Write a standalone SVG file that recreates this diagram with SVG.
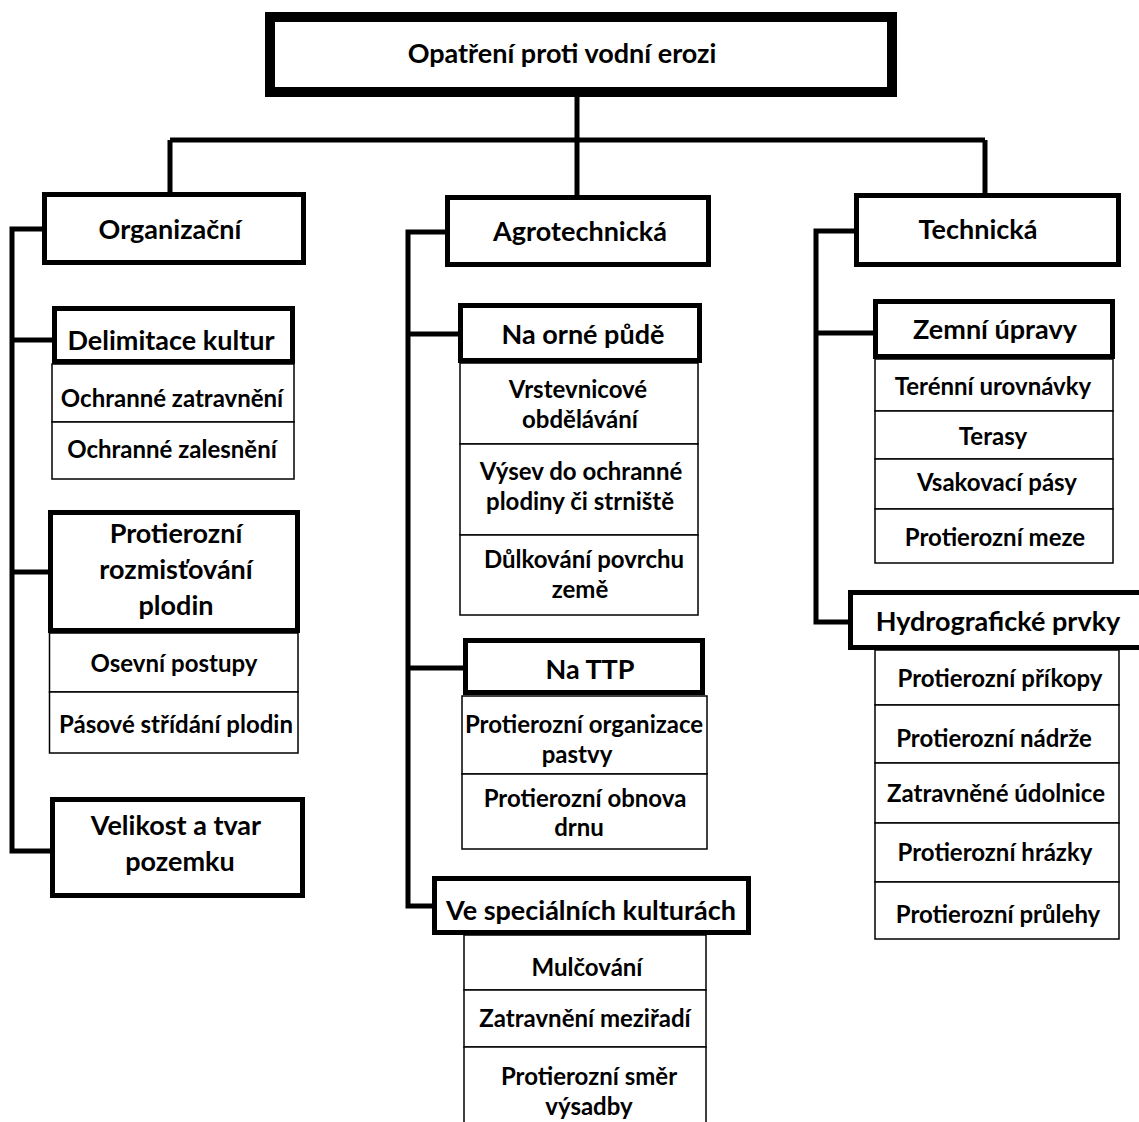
<svg xmlns="http://www.w3.org/2000/svg" width="1139" height="1122" viewBox="0 0 1139 1122">
<style>
.thick{fill:#fff;stroke:#000;stroke-width:5}
.title{fill:#fff;stroke:#000;stroke-width:10}
.cell{fill:#fff;stroke:#000;stroke-width:1.5}
.con{fill:none;stroke:#000;stroke-width:5}
text{font-family:Lato,"Liberation Sans",sans-serif;font-weight:bold;fill:#000;text-anchor:middle;dominant-baseline:central}
.h{font-size:27px}
.c{font-size:24px}
</style>
<rect width="1139" height="1122" fill="#fff"/>
<g id="connectors">
<path class="con" d="M577 97 V195 M170 140 H985 M170 140 V192 M985 140 V195"/>
<path class="con" d="M42 229 H12 V851 H52 M12 340 H52 M12 572 H48"/>
<path class="con" d="M445 232 H408 V906 H433 M408 334 H460 M408 668 H463"/>
<path class="con" d="M856 231 H816 V622 H850 M816 333 H874"/>
</g>
<g id="root"><rect class="title" x="270" y="17" width="622" height="75"/><text class="h" x="562" y="52">Opatření proti vodní erozi</text></g>
<g id="organizacni"><rect class="thick" x="44.5" y="194.5" width="259" height="68"/><text class="h" x="170" y="228">Organizační</text></g>
<g id="agrotechnicka"><rect class="thick" x="447.5" y="197.5" width="261" height="67"/><text class="h" x="580" y="230">Agrotechnická</text></g>
<g id="technicka"><rect class="thick" x="856.5" y="195.5" width="262" height="69"/><text class="h" x="978" y="228">Technická</text></g>

<g id="delimitace"><rect class="thick" x="54.5" y="308.5" width="238" height="53"/><text class="h" x="171" y="339">Delimitace kultur</text></g>
<g id="zatravneni"><rect class="cell" x="52" y="364" width="242" height="58"/><text class="c" x="172" y="397">Ochranné zatravnění</text></g>
<g id="zalesneni"><rect class="cell" x="52" y="422" width="242" height="57"/><text class="c" x="172" y="448">Ochranné zalesnění</text></g>
<g id="rozmistovani"><rect class="thick" x="50.5" y="512.5" width="247" height="118"/><text class="h" x="176" y="532">Protierozní</text><text class="h" x="176" y="568">rozmisťování</text><text class="h" x="176" y="604">plodin</text></g>
<g id="osevni"><rect class="cell" x="49.5" y="633" width="248.5" height="59"/><text class="c" x="174" y="662">Osevní postupy</text></g>
<g id="pasove"><rect class="cell" x="49.5" y="692" width="248.5" height="61"/><text class="c" x="176" y="723">Pásové střídání plodin</text></g>
<g id="velikost"><rect class="thick" x="52.5" y="799.5" width="250" height="96"/><text class="h" x="176" y="824">Velikost a tvar</text><text class="h" x="180" y="860">pozemku</text></g>

<g id="orna"><rect class="thick" x="460.5" y="305.5" width="239" height="55"/><text class="h" x="583" y="333">Na orné půdě</text></g>
<g id="vrstevnicove"><rect class="cell" x="460" y="363" width="238" height="81"/><text class="c" x="578" y="388">Vrstevnicové</text><text class="c" x="580" y="418">obdělávání</text></g>
<g id="vysev"><rect class="cell" x="460" y="444" width="238" height="91"/><text class="c" x="581" y="470">Výsev do ochranné</text><text class="c" x="580" y="500">plodiny či strniště</text></g>
<g id="dulkovani"><rect class="cell" x="460" y="535" width="238" height="80"/><text class="c" x="584" y="558">Důlkování povrchu</text><text class="c" x="580" y="588">země</text></g>
<g id="ttp"><rect class="thick" x="465.5" y="640.5" width="237" height="52"/><text class="h" x="590" y="668">Na TTP</text></g>
<g id="pastvy"><rect class="cell" x="462" y="696" width="245" height="78"/><text class="c" x="584" y="723">Protierozní organizace</text><text class="c" x="577" y="753">pastvy</text></g>
<g id="drnu"><rect class="cell" x="462" y="774" width="245" height="75"/><text class="c" x="585" y="797">Protierozní obnova</text><text class="c" x="579" y="826">drnu</text></g>
<g id="specialni"><rect class="thick" x="434.5" y="878.5" width="314" height="54"/><text class="h" x="591" y="909">Ve speciálních kulturách</text></g>
<g id="mulcovani"><rect class="cell" x="464" y="935" width="242" height="55"/><text class="c" x="587" y="966">Mulčování</text></g>
<g id="mezifadi"><rect class="cell" x="464" y="990" width="242" height="57"/><text class="c" x="585" y="1017">Zatravnění meziřadí</text></g>
<g id="vysadby"><rect class="cell" x="464" y="1047" width="242" height="80"/><text class="c" x="589" y="1075">Protierozní směr</text><text class="c" x="589" y="1105">výsadby</text></g>

<g id="zemni"><rect class="thick" x="875.5" y="301.5" width="237" height="55"/><text class="h" x="995" y="328">Zemní úpravy</text></g>
<g id="urovnavky"><rect class="cell" x="875" y="359" width="238" height="52"/><text class="c" x="993" y="385">Terénní urovnávky</text></g>
<g id="terasy"><rect class="cell" x="875" y="411" width="238" height="48"/><text class="c" x="993" y="435">Terasy</text></g>
<g id="vsakovaci"><rect class="cell" x="875" y="459" width="238" height="50"/><text class="c" x="997" y="481">Vsakovací pásy</text></g>
<g id="meze"><rect class="cell" x="875" y="509" width="238" height="54"/><text class="c" x="995" y="536">Protierozní meze</text></g>
<g id="hydro"><rect class="thick" x="850.5" y="592.5" width="300" height="55"/><text class="h" x="998" y="620">Hydrografické prvky</text></g>
<g id="prikopy"><rect class="cell" x="875" y="650" width="244" height="55"/><text class="c" x="1000" y="677">Protierozní příkopy</text></g>
<g id="nadrze"><rect class="cell" x="875" y="705" width="244" height="58"/><text class="c" x="994" y="737">Protierozní nádrže</text></g>
<g id="udolnice"><rect class="cell" x="875" y="763" width="244" height="60"/><text class="c" x="996" y="792">Zatravněné údolnice</text></g>
<g id="hrazky"><rect class="cell" x="875" y="823" width="244" height="59"/><text class="c" x="995" y="851">Protierozní hrázky</text></g>
<g id="pruleh"><rect class="cell" x="875" y="882" width="244" height="57"/><text class="c" x="998" y="913">Protierozní průlehy</text></g>
</svg>
